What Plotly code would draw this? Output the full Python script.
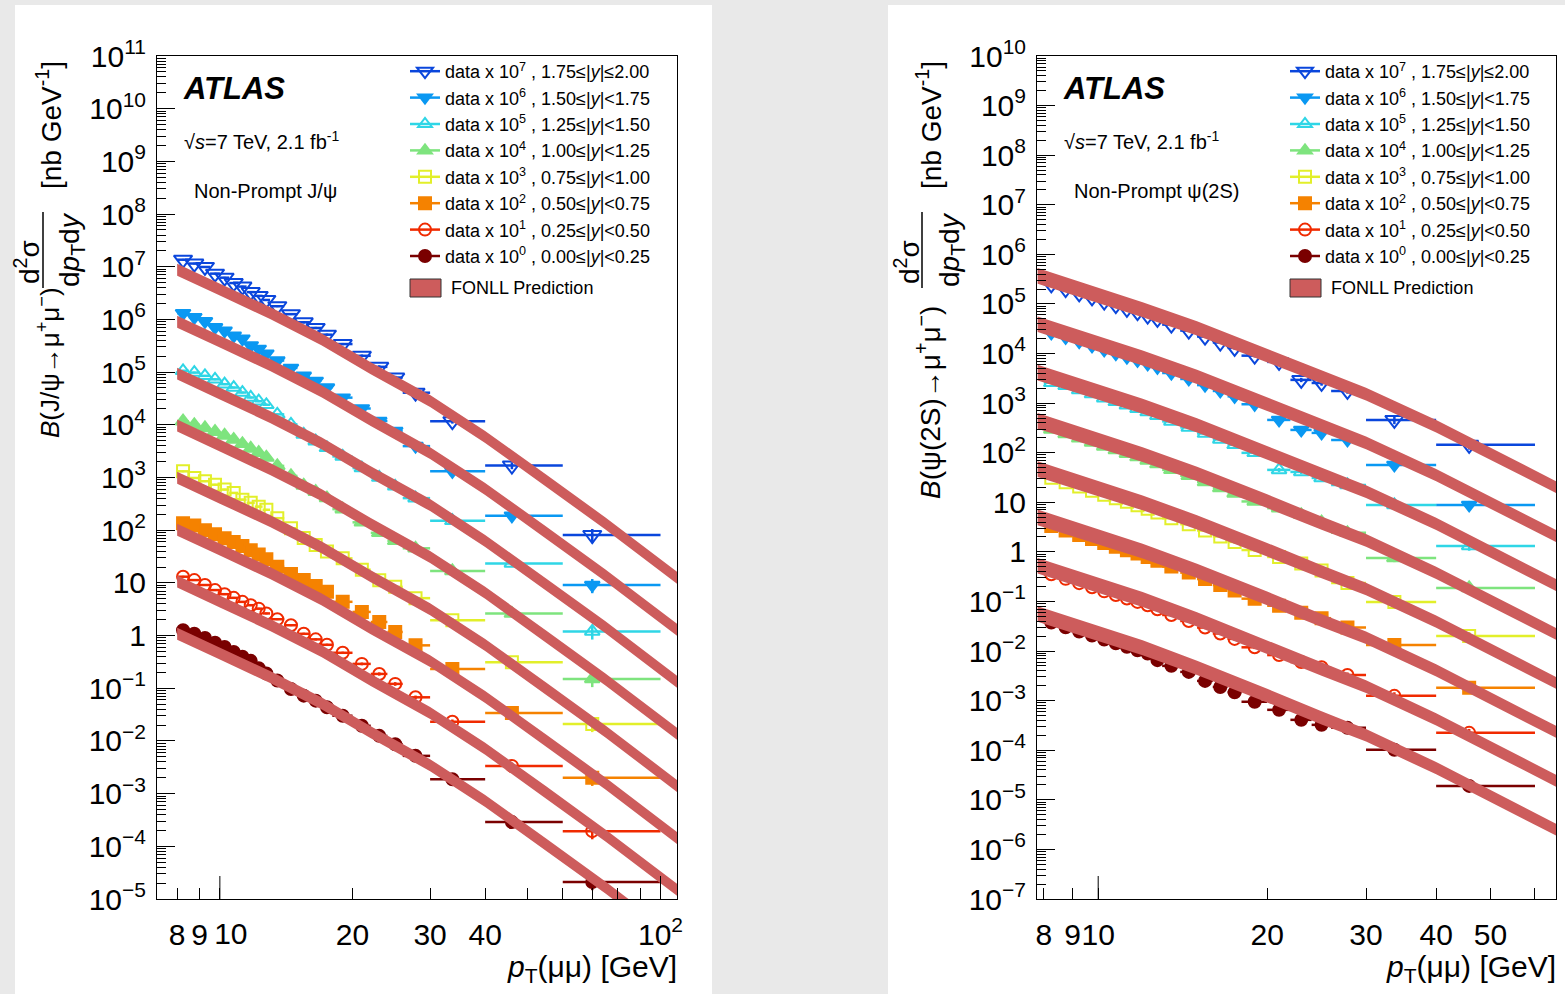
import math
import plotly.graph_objects as go

W, H = 1565, 994
FONT = "Liberation Sans, Arial, Helvetica, sans-serif"
BAND = "#cd5c5c"

RAP_LABELS = ["0.00≤|<i>y</i>|<0.25", "0.25≤|<i>y</i>|<0.50", "0.50≤|<i>y</i>|<0.75",
              "0.75≤|<i>y</i>|<1.00", "1.00≤|<i>y</i>|<1.25", "1.25≤|<i>y</i>|<1.50",
              "1.50≤|<i>y</i>|<1.75", "1.75≤|<i>y</i>|≤2.00"]
SCALE_EXP = [0, 1, 2, 3, 4, 5, 6, 7]
COLORS = ["#7a0000", "#f02a00", "#f58200", "#e2ef2a", "#7ee47e", "#2fd6e6", "#0a98f2", "#0a46dc"]
SYMBOLS = ["circle", "circle-open", "square", "square-open",
           "triangle-up", "triangle-up-open", "triangle-down", "triangle-down-open"]
MSIZES = [12, 12, 12, 12, 13, 13, 13, 16]

# ---------------- J/psi (left) ----------------
JPSI_LO = [8, 8.5, 9, 9.5, 10, 10.5, 11, 11.5, 12, 12.5, 13, 14, 15, 16, 17, 18, 20, 22, 24, 26, 30, 40, 60]
JPSI_HI = [8.5, 9, 9.5, 10, 10.5, 11, 11.5, 12, 12.5, 13, 14, 15, 16, 17, 18, 20, 22, 24, 26, 30, 40, 60, 100]
JPSI_PT = [8.25, 8.75, 9.25, 9.75, 10.25, 10.75, 11.25, 11.75, 12.25, 12.75, 13.5, 14.5, 15.5, 16.5,
           17.5, 19, 21, 23, 25, 27.8, 33.7, 46, 70]
JPSI_Y0 = [1.26, 1.08, 0.90, 0.73, 0.605, 0.486, 0.398, 0.331, 0.24, 0.19, 0.14, 0.097, 0.0724, 0.0582,
           0.0435, 0.0301, 0.0194, 0.0125, 0.00867, 0.00521, 0.00187, 0.000288, 2.1e-5]
JPSI_Y1 = [1.31, 1.13, 0.91, 0.73, 0.61, 0.52, 0.436, 0.377, 0.324, 0.263, 0.204, 0.157, 0.108, 0.0847,
           0.0668, 0.0471, 0.029, 0.0187, 0.0121, 0.00673, 0.00232, 0.000336, 1.94e-5]
JPSI_Y2 = [1.36, 1.23, 1.0, 0.84, 0.70, 0.60, 0.50, 0.417, 0.347, 0.282, 0.203, 0.148, 0.113, 0.0871,
           0.0676, 0.0437, 0.0281, 0.0181, 0.0117, 0.00652, 0.00233, 0.000338, 2.0e-5]
JPSI_Y3 = [1.31, 0.98, 0.85, 0.73, 0.59, 0.51, 0.38, 0.33, 0.28, 0.244, 0.169, 0.109, 0.0708, 0.0525,
           0.0392, 0.0292, 0.0178, 0.0112, 0.0084, 0.00513, 0.00195, 0.000313, 2.1e-5]
JPSI_Y4 = [1.17, 1.0, 0.87, 0.74, 0.63, 0.525, 0.436, 0.355, 0.295, 0.24, 0.166, 0.107, 0.0708, 0.0537,
           0.0407, 0.0251, 0.0141, 0.0089, 0.0063, 0.00453, 0.00168, 0.000261, 1.5e-5]
JPSI_Y5 = [1.06, 0.98, 0.85, 0.73, 0.59, 0.51, 0.41, 0.33, 0.28, 0.24, 0.158, 0.102, 0.0658, 0.049,
           0.0366, 0.0251, 0.0151, 0.0100, 0.0068, 0.00406, 0.00151, 0.000234, 1.2e-5]
JPSI_Y6 = [1.31, 1.10, 0.92, 0.71, 0.61, 0.49, 0.43, 0.32, 0.275, 0.224, 0.166, 0.120, 0.0851, 0.0682,
           0.0509, 0.0328, 0.0204, 0.0118, 0.0076, 0.00394, 0.00131, 0.000188, 9.1e-6]
JPSI_Y7 = [1.36, 1.15, 0.99, 0.74, 0.62, 0.49, 0.42, 0.33, 0.28, 0.234, 0.178, 0.126, 0.0883, 0.0689,
           0.0514, 0.0341, 0.0204, 0.0126, 0.0079, 0.00407, 0.00117, 0.000169, 8.1e-6]
JPSI_REL_ERR = [0.04, 0.04, 0.04, 0.04, 0.04, 0.04, 0.04, 0.04, 0.04, 0.04, 0.04, 0.04, 0.05, 0.05,
                0.05, 0.05, 0.06, 0.07, 0.08, 0.08, 0.10, 0.15, 0.30]

JPSI_FONLL_PT = [8, 10, 13, 17, 22, 30, 40, 55, 75, 110]
JPSI_FONLL_Y0 = [1.084, 0.454, 0.163, 0.0519, 0.0146, 0.00347, 0.000724, 1.08e-4, 1.65e-5, 1.45e-6]
JPSI_FONLL_Y1 = [1.059, 0.444, 0.159, 0.0507, 0.0143, 0.00339, 0.000708, 1.06e-4, 1.61e-5, 1.41e-6]
JPSI_FONLL_Y2 = [1.023, 0.428, 0.154, 0.0490, 0.0138, 0.00327, 0.000684, 1.02e-4, 1.56e-5, 1.36e-6]
JPSI_FONLL_Y3 = [0.988, 0.414, 0.149, 0.0473, 0.0134, 0.00316, 0.000661, 9.86e-5, 1.51e-5, 1.32e-6]
JPSI_FONLL_Y4 = [0.966, 0.404, 0.145, 0.0463, 0.0131, 0.00309, 0.000646, 9.63e-5, 1.47e-5, 1.29e-6]
JPSI_FONLL_Y5 = [0.936, 0.392, 0.141, 0.0448, 0.0126, 0.00299, 0.000626, 9.33e-5, 1.43e-5, 1.25e-6]
JPSI_FONLL_Y6 = [0.907, 0.380, 0.136, 0.0435, 0.0123, 0.00290, 0.000607, 9.05e-5, 1.38e-5, 1.21e-6]
JPSI_FONLL_Y7 = [0.881, 0.369, 0.132, 0.0422, 0.0119, 0.00282, 0.000589, 8.79e-5, 1.34e-5, 1.18e-6]
JPSI_FONLL_UP = [0.30, 0.30, 0.30, 0.30, 0.30, 0.30, 0.30, 0.30, 0.30, 0.30]
JPSI_FONLL_DN = [0.23, 0.23, 0.23, 0.23, 0.23, 0.23, 0.23, 0.23, 0.23, 0.23]

# ---------------- psi(2S) (right) ----------------
PSI_LO = [8, 8.5, 9, 9.5, 10, 10.5, 11, 11.5, 12, 12.5, 13, 14, 15, 16, 17, 18, 20, 22, 24, 26, 30, 40]
PSI_HI = [8.5, 9, 9.5, 10, 10.5, 11, 11.5, 12, 12.5, 13, 14, 15, 16, 17, 18, 20, 22, 24, 26, 30, 40, 60]
PSI_PT = [8.25, 8.75, 9.25, 9.75, 10.25, 10.75, 11.25, 11.75, 12.25, 12.75, 13.5, 14.5, 15.5, 16.5,
          17.5, 19, 21, 23, 25, 27.8, 33.7, 45.8]
PSI_Y0 = [0.0375, 0.0303, 0.0248, 0.0205, 0.0171, 0.0144, 0.0122, 0.0104, 0.0089, 0.00656, 0.00503,
          0.0038, 0.0025, 0.00189, 0.00147, 0.00095, 0.000653, 0.00041, 0.000325, 0.000283, 0.000102, 1.91e-5]
PSI_Y1 = [0.0354, 0.0286, 0.0234, 0.0193, 0.016, 0.0135, 0.0115, 0.0098, 0.00838, 0.00697, 0.00534,
          0.00404, 0.00298, 0.00226, 0.00176, 0.00119, 0.00083, 0.0006, 0.00047, 0.00033, 0.000125, 2.24e-5]
PSI_Y2 = [0.0333, 0.0269, 0.022, 0.0182, 0.0151, 0.0127, 0.0108, 0.00923, 0.00789, 0.00659, 0.00505,
          0.00382, 0.00283, 0.00215, 0.00167, 0.00114, 0.00082, 0.00059, 0.00046, 0.0003, 0.000133, 1.81e-5]
PSI_Y3 = [0.0313, 0.0254, 0.0208, 0.0171, 0.0142, 0.012, 0.0102, 0.00869, 0.00744, 0.00624, 0.00478,
          0.00362, 0.0027, 0.00205, 0.00159, 0.00109, 0.00079, 0.00058, 0.00042, 0.000237, 9.8e-5, 2.02e-5]
PSI_Y4 = [0.0295, 0.0239, 0.0195, 0.0161, 0.0134, 0.0113, 0.00958, 0.00819, 0.007, 0.0059, 0.00452,
          0.00342, 0.00256, 0.00194, 0.00151, 0.00104, 0.00076, 0.00056, 0.0004, 0.000242, 7.57e-5, 1.88e-5]
PSI_Y5 = [0.0257, 0.0225, 0.0184, 0.0152, 0.0126, 0.0106, 0.00902, 0.00771, 0.00659, 0.00559, 0.00428,
          0.00324, 0.00244, 0.00185, 0.00144, 0.000993, 0.00045, 0.00041, 0.00031, 0.000224, 8.87e-5, 1.32e-5]
PSI_Y6 = [0.0262, 0.0212, 0.0173, 0.0143, 0.0119, 0.01, 0.0085, 0.00726, 0.00621, 0.00529, 0.00405,
          0.00307, 0.00231, 0.00176, 0.00137, 0.000949, 0.000458, 0.000288, 0.000251, 0.000181, 5.68e-5, 8.87e-6]
PSI_Y7 = [0.0247, 0.020, 0.0163, 0.0135, 0.0112, 0.00944, 0.008, 0.00684, 0.00585, 0.005, 0.00383,
          0.0029, 0.0022, 0.00167, 0.0013, 0.000906, 0.000678, 0.000294, 0.000255, 0.000176, 4.58e-5, 1.44e-5]
PSI_REL_ERR = [0.06, 0.06, 0.06, 0.06, 0.06, 0.06, 0.06, 0.06, 0.06, 0.06, 0.06, 0.06, 0.07, 0.07,
               0.08, 0.08, 0.09, 0.10, 0.12, 0.12, 0.18, 0.20]

PSI_FONLL_PT = [7.8, 9, 10, 12, 15, 20, 25, 30, 40, 50, 66]
PSI_FONLL_Y0 = [0.0554, 0.0330, 0.0225, 0.0116, 0.00456, 0.00126, 0.000448, 0.000199, 4.36e-5, 1.19e-5, 2.37e-6]
PSI_FONLL_Y1 = [0.0521, 0.0311, 0.0212, 0.0109, 0.00434, 0.0012, 0.000429, 0.000191, 4.21e-5, 1.16e-5, 2.30e-6]
PSI_FONLL_Y2 = [0.0491, 0.0293, 0.0200, 0.0103, 0.00412, 0.00115, 0.000412, 0.000184, 4.07e-5, 1.12e-5, 2.23e-6]
PSI_FONLL_Y3 = [0.0463, 0.0276, 0.0188, 0.00969, 0.00392, 0.0011, 0.000395, 0.000177, 3.93e-5, 1.08e-5, 2.16e-6]
PSI_FONLL_Y4 = [0.0436, 0.0260, 0.0177, 0.00912, 0.00372, 0.00105, 0.000379, 0.00017, 3.79e-5, 1.05e-5, 2.10e-6]
PSI_FONLL_Y5 = [0.0410, 0.0245, 0.0167, 0.00859, 0.00354, 0.001, 0.000364, 0.000163, 3.67e-5, 1.02e-5, 2.04e-6]
PSI_FONLL_Y6 = [0.0387, 0.0230, 0.0157, 0.00809, 0.00337, 0.000955, 0.000349, 0.000157, 3.54e-5, 9.84e-6, 1.98e-6]
PSI_FONLL_Y7 = [0.0364, 0.0217, 0.0148, 0.00762, 0.0032, 0.000912, 0.000335, 0.000151, 3.42e-5, 9.53e-6, 1.92e-6]
PSI_FONLL_UP = [0.45, 0.44, 0.43, 0.42, 0.40, 0.38, 0.36, 0.35, 0.33, 0.32, 0.32]
PSI_FONLL_DN = [0.30, 0.30, 0.30, 0.29, 0.28, 0.27, 0.26, 0.25, 0.25, 0.24, 0.24]

JPSI_DATA = [JPSI_Y0, JPSI_Y1, JPSI_Y2, JPSI_Y3, JPSI_Y4, JPSI_Y5, JPSI_Y6, JPSI_Y7]
JPSI_FONLL = [JPSI_FONLL_Y0, JPSI_FONLL_Y1, JPSI_FONLL_Y2, JPSI_FONLL_Y3,
              JPSI_FONLL_Y4, JPSI_FONLL_Y5, JPSI_FONLL_Y6, JPSI_FONLL_Y7]
PSI_DATA = [PSI_Y0, PSI_Y1, PSI_Y2, PSI_Y3, PSI_Y4, PSI_Y5, PSI_Y6, PSI_Y7]
PSI_FONLL = [PSI_FONLL_Y0, PSI_FONLL_Y1, PSI_FONLL_Y2, PSI_FONLL_Y3,
             PSI_FONLL_Y4, PSI_FONLL_Y5, PSI_FONLL_Y6, PSI_FONLL_Y7]

fig = go.Figure()


def add_panel(xa, ya, legend_name, pts, los, his, datas, rel_err, fpt, fonlls, fup, fdn):
    # data points first: the prediction bands are drawn on top, as in the original
    for i in reversed(range(8)):
        s = 10 ** SCALE_EXP[i]
        col = COLORS[i]
        ys = [v * s for v in datas[i]]
        fig.add_trace(go.Scatter(
            x=pts, y=ys, mode="markers", xaxis=xa, yaxis=ya, showlegend=False,
            marker=dict(symbol=SYMBOLS[i], size=MSIZES[i], color=col, line=dict(color=col, width=2)),
            error_x=dict(type="data", symmetric=False,
                         array=[h - p for h, p in zip(his, pts)],
                         arrayminus=[p - l for p, l in zip(pts, los)],
                         color=col, thickness=2.5, width=0),
            error_y=dict(type="data", array=[y * e for y, e in zip(ys, rel_err)],
                         color=col, thickness=2.5, width=0),
            hoverinfo="x+y"))
    for i in range(8):
        s = 10 ** SCALE_EXP[i]
        hi = [c * s * (1 + u) for c, u in zip(fonlls[i], fup)]
        lo = [c * s * (1 - d) for c, d in zip(fonlls[i], fdn)]
        fig.add_trace(go.Scatter(
            x=fpt + fpt[::-1], y=hi + lo[::-1], fill="toself", fillcolor=BAND,
            line=dict(width=0, color=BAND), mode="lines", xaxis=xa, yaxis=ya,
            showlegend=False, hoverinfo="skip"))
    for i in reversed(range(8)):
        col = COLORS[i]
        name = f"data x 10<sup>{SCALE_EXP[i]}</sup> , {RAP_LABELS[i]}"
        fig.add_trace(go.Scatter(
            x=[None], y=[None], mode="lines+markers", xaxis=xa, yaxis=ya, name=name,
            legend=legend_name, line=dict(color=col, width=2.5),
            marker=dict(symbol=SYMBOLS[i], size=12 if i < 7 else 14, color=col,
                        line=dict(color=col, width=2))))


add_panel("x", "y", "legend", JPSI_PT, JPSI_LO, JPSI_HI, JPSI_DATA, JPSI_REL_ERR,
          JPSI_FONLL_PT, JPSI_FONLL, JPSI_FONLL_UP, JPSI_FONLL_DN)
add_panel("x2", "y2", "legend2", PSI_PT, PSI_LO, PSI_HI, PSI_DATA, PSI_REL_ERR,
          PSI_FONLL_PT, PSI_FONLL, PSI_FONLL_UP, PSI_FONLL_DN)
# empty trace that carries the overlaid axis holding the shifted "10" label of the left panel
fig.add_trace(go.Scatter(x=[None], y=[None], xaxis="x3", yaxis="y", showlegend=False,
                         hoverinfo="skip"))

L1, R1, L2, R2, TOP, BOT = 157, 677, 1037, 1556, 56, 899


def ylog_ticks(lo, hi):
    vals, txt = [], []
    for e in range(lo, hi + 1):
        vals.append(10.0 ** e)
        if e == 0:
            txt.append("1")
        elif e == 1:
            txt.append("10")
        else:
            txt.append("10<sup>%s</sup>" % (str(e).replace("-", "−")))
    minor = [k * 10.0 ** e for e in range(lo, hi) for k in range(2, 10)]
    return vals, txt, minor


tickfont = dict(family=FONT, size=30, color="black")
common_x = dict(type="log", showgrid=False, zeroline=False, showline=True, linecolor="black",
                linewidth=1, mirror=True, ticks="inside", ticklen=11, tickwidth=1,
                tickcolor="black", tickfont=tickfont, ticklabelstandoff=9, tickangle=0,
                automargin=False)
common_y = dict(type="log", showgrid=False, zeroline=False, showline=True, linecolor="black",
                linewidth=1, mirror=True, ticks="inside", ticklen=18, tickwidth=1,
                tickcolor="black", tickfont=tickfont, ticklabelstandoff=4, tickangle=0,
                automargin=False)

yv1, yt1, ym1 = ylog_ticks(-5, 11)
yv2, yt2, ym2 = ylog_ticks(-7, 10)
XR1 = [math.log10(7.2), math.log10(109)]

fig.update_layout(
    template="none",
    width=W, height=H, margin=dict(l=0, r=0, t=0, b=0, autoexpand=False),
    paper_bgcolor="white", plot_bgcolor="white", showlegend=True,
    xaxis=dict(common_x, domain=[L1 / W, R1 / W], anchor="y", range=XR1,
               tickmode="array", tickvals=[8, 9, 10, 20, 30, 40, 100],
               ticktext=["8", "9", "", "20", "30", "40", "10<sup>2</sup>"],
               minor=dict(tickmode="array", tickvals=[50, 60, 70, 80, 90], ticks="inside",
                          ticklen=11, tickcolor="black", showgrid=False)),
    xaxis3=dict(type="log", overlaying="x", anchor="y", side="bottom", range=XR1,
                showgrid=False, zeroline=False, showline=False, ticks="",
                tickmode="array", tickvals=[10], ticktext=["10"], tickfont=tickfont,
                ticklabelstandoff=14, ticklabelshift=11, tickangle=0, automargin=False),
    yaxis=dict(common_y, domain=[1 - BOT / H, 1 - TOP / H], anchor="x",
               range=[-5, 11], tickmode="array", tickvals=yv1, ticktext=yt1,
               minor=dict(tickmode="array", tickvals=ym1, ticks="inside", ticklen=9,
                          tickcolor="black", showgrid=False)),
    xaxis2=dict(common_x, domain=[L2 / W, R2 / W], anchor="y2",
                range=[math.log10(7.78), math.log10(65.4)],
                tickmode="array", tickvals=[8, 9, 10, 20, 30, 40, 50],
                ticktext=["8", "9", "10", "20", "30", "40", "50"],
                minor=dict(tickmode="array", tickvals=[60], ticks="inside",
                           ticklen=11, tickcolor="black", showgrid=False)),
    yaxis2=dict(common_y, domain=[1 - BOT / H, 1 - TOP / H], anchor="x2",
                range=[-7, 10], tickmode="array", tickvals=yv2, ticktext=yt2,
                minor=dict(tickmode="array", tickvals=ym2, ticks="inside", ticklen=9,
                           tickcolor="black", showgrid=False)),
    legend=dict(x=405 / W, y=1 - 53 / H, xanchor="left", yanchor="top",
                font=dict(family=FONT, size=18, color="black"), bgcolor="rgba(0,0,0,0)",
                borderwidth=0, itemwidth=30, tracegroupgap=0),
    legend2=dict(x=1285 / W, y=1 - 53 / H, xanchor="left", yanchor="top",
                 font=dict(family=FONT, size=18, color="black"), bgcolor="rgba(0,0,0,0)",
                 borderwidth=0, itemwidth=30, tracegroupgap=0),
)

shapes = []
for x0, x1 in [(0, 15), (712, 888)]:
    shapes.append(dict(type="rect", xref="paper", yref="paper", x0=x0 / W, x1=x1 / W, y0=0, y1=1,
                       fillcolor="#e9e9e9", line=dict(width=0), layer="below"))
shapes.append(dict(type="rect", xref="paper", yref="paper", x0=0, x1=1, y0=1 - 5 / H, y1=1,
                   fillcolor="#e9e9e9", line=dict(width=0), layer="below"))
for xr, yr, xv in [("x", "y domain", 10), ("x", "y domain", 100), ("x2", "y2 domain", 10)]:
    shapes.append(dict(type="line", xref=xr, yref=yr, x0=xv, x1=xv, y0=0, y1=23 / (BOT - TOP),
                       line=dict(color="black", width=1)))
for xb in [43, 922]:
    shapes.append(dict(type="line", xref="paper", yref="paper", x0=xb / W, x1=xb / W,
                       y0=1 - 288 / H, y1=1 - 212 / H, line=dict(color="black", width=1.5)))
for xb in [410, 1290]:
    shapes.append(dict(type="rect", xref="paper", yref="paper", x0=xb / W, x1=(xb + 31) / W,
                       y0=1 - 297 / H, y1=1 - 279 / H, fillcolor=BAND,
                       line=dict(color="#333333", width=1)))
fig.update_layout(shapes=shapes)

ann = []


def A(text, x, y, size, xanchor="left", yanchor="middle", angle=0):
    ann.append(dict(text=text, x=x / W, y=1 - y / H, xref="paper", yref="paper",
                    xanchor=xanchor, yanchor=yanchor, showarrow=False, textangle=angle,
                    font=dict(family=FONT, size=size, color="black")))


for off, title, main, mainy, msize in [
        (0, "Non-Prompt J/ψ", "<i>B</i>(J/ψ→μ<sup>+</sup>μ<sup>−</sup>)", 363, 26),
        (880, "Non-Prompt ψ(2S)", "<i>B</i>(ψ(2S)→μ<sup>+</sup>μ<sup>−</sup>)", 402, 28)]:
    px0 = 181 + off
    A("<b><i>ATLAS</i></b>", px0, 89, 31)
    A("√<i>s</i>=7 TeV, 2.1 fb<sup>-1</sup>", px0 + 1, 140, 20)
    A(title, px0 + 11, 191, 20)
    A("FONLL Prediction", 449 + off, 288, 18)
    A("<i>p</i><sub>T</sub>(μμ) [GeV]", (R1 if off == 0 else R2) + 2, 968, 30, xanchor="right")
    A(main, 48 + off, mainy, msize, xanchor="center", angle=-90)
    A("d<sup>2</sup>σ", 27 + off, 262, 28, xanchor="center", angle=-90)
    A("d<i>p</i><sub>T</sub>d<i>y</i>", 72 + off, 250, 28, xanchor="center", angle=-90)
    A("[nb GeV<sup>-1</sup>]", 49 + off, 125, 28, xanchor="center", angle=-90)
fig.update_layout(annotations=ann)

fig.write_html("out.html")
